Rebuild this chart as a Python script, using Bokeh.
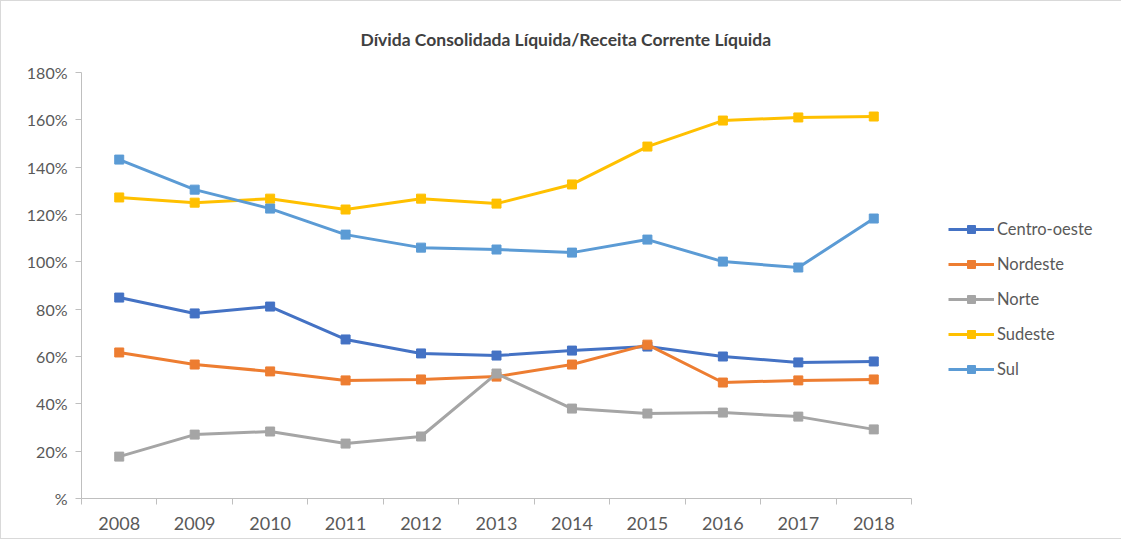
from bokeh.plotting import figure
from bokeh.models import Range1d, FixedTicker, Legend, LegendItem
from bokeh.embed import file_html
from bokeh.resources import INLINE

years = ["2008", "2009", "2010", "2011", "2012", "2013", "2014", "2015", "2016", "2017", "2018"]
centro_oeste = [84.9, 78.2, 81.1, 67.2, 61.3, 60.4, 62.5, 64.2, 60.0, 57.5, 57.9]
nordeste = [61.7, 56.6, 53.7, 49.9, 50.3, 51.5, 56.6, 65.0, 49.0, 49.9, 50.3]
norte = [17.7, 27.0, 28.3, 23.2, 26.2, 52.8, 38.0, 35.9, 36.3, 34.6, 29.2]
sudeste = [127.2, 125.0, 126.7, 122.1, 126.7, 124.6, 132.7, 148.7, 159.7, 161.0, 161.4]
sul = [143.2, 130.5, 122.5, 111.5, 106.0, 105.2, 103.9, 109.4, 100.1, 97.6, 118.3]

series_names = ["Centro-oeste", "Nordeste", "Norte", "Sudeste", "Sul"]
series_values = [centro_oeste, nordeste, norte, sudeste, sul]
series_colors = ["#4472C4", "#ED7D31", "#A5A5A5", "#FFC000", "#5B9BD5"]

y_ticks = [0, 20, 40, 60, 80, 100, 120, 140, 160, 180]
y_tick_labels = ["%", "20%", "40%", "60%", "80%", "100%", "120%", "140%", "160%", "180%"]

FONT = "Lato"
TXT = "#595959"

x_idx = list(range(len(years)))

p = figure(frame_width=830, frame_height=426, output_backend="svg", toolbar_location=None,
           x_range=Range1d(-0.5, len(years) - 0.5), y_range=Range1d(0, 180),
           min_border_left=80, min_border_right=195, min_border_top=71, min_border_bottom=40)
p.styles = {"border": "1px solid #d9d9d9"}
p.outline_line_color = None
p.xgrid.grid_line_color = None
p.ygrid.grid_line_color = None
p.background_fill_color = "white"
p.border_fill_color = "white"

p.title.text = "Dívida Consolidada Líquida/Receita Corrente Líquida"
p.title.align = "left"
p.title.offset = 279
p.title.text_font = FONT
p.title.text_font_size = "17.5px"
p.title.text_font_style = "bold"
p.title.text_color = "#404040"
p.title.standoff = 46

# y axis
p.yaxis.ticker = FixedTicker(ticks=y_ticks)
p.yaxis.major_label_overrides = {t: l for t, l in zip(y_ticks, y_tick_labels)}
p.yaxis.major_tick_out = 6
p.yaxis.major_tick_in = 0
p.yaxis.minor_tick_line_color = None
p.yaxis.axis_line_color = "#bfbfbf"
p.yaxis.major_tick_line_color = "#bfbfbf"
p.yaxis.major_label_text_font = FONT
p.yaxis.major_label_text_font_size = "16px"
p.yaxis.major_label_text_color = TXT
p.yaxis.major_label_standoff = 8

# x axis: labels at category centres, tick marks between categories
p.xaxis.ticker = FixedTicker(ticks=x_idx, minor_ticks=[i - 0.5 for i in range(len(years) + 1)])
p.xaxis.major_label_overrides = {i: y for i, y in zip(x_idx, years)}
p.xaxis.major_tick_line_color = None
p.xaxis.minor_tick_out = 6
p.xaxis.minor_tick_in = 0
p.xaxis.minor_tick_line_color = "#bfbfbf"
p.xaxis.axis_line_color = "#bfbfbf"
p.xaxis.major_label_text_font = FONT
p.xaxis.major_label_text_font_size = "18px"
p.xaxis.major_label_text_color = TXT
p.xaxis.major_label_standoff = 12

items = []
for name, vals, col in zip(series_names, series_values, series_colors):
    r1 = p.line(x_idx, vals, line_color=col, line_width=3)
    r2 = p.scatter(x_idx, vals, marker="square", size=9, fill_color=col, line_color=col)
    items.append(LegendItem(label=name, renderers=[r1, r2]))

legend = Legend(items=items, location=(37, 119), orientation="vertical")
legend.border_line_color = None
legend.background_fill_alpha = 0
legend.label_text_font = FONT
legend.label_text_font_size = "16.5px"
legend.label_text_color = TXT
legend.glyph_width = 46
legend.glyph_height = 20
legend.label_height = 20
legend.spacing = 15
legend.label_standoff = 3
legend.padding = 10
legend.margin = 0
p.add_layout(legend, "right")

open("out.html", "w").write(file_html(p, INLINE))
